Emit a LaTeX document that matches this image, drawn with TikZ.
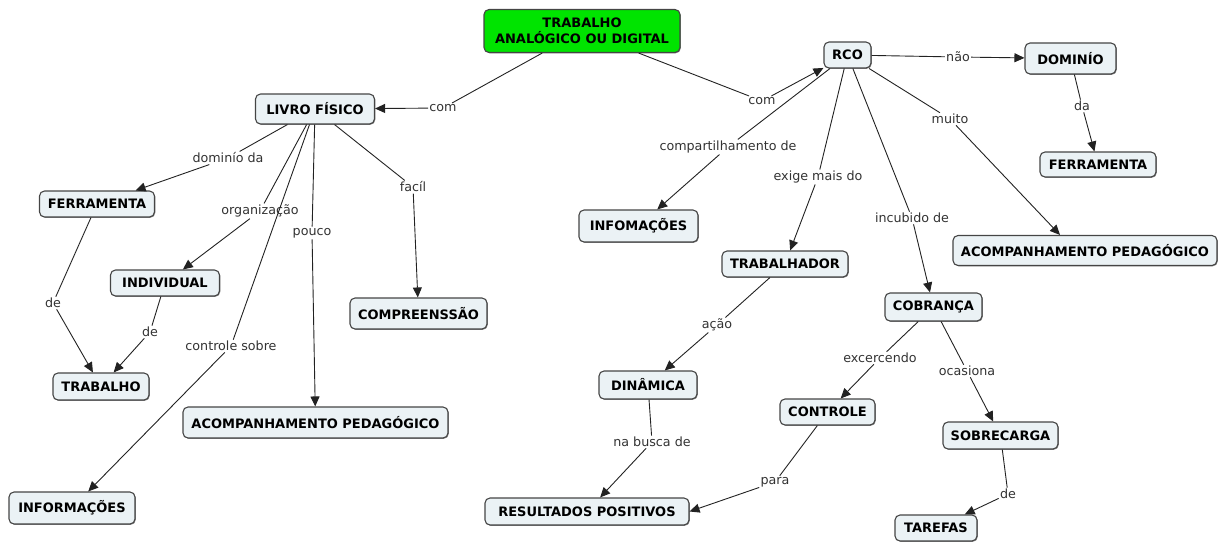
\documentclass[tikz,border=0pt]{standalone}
\usepackage{fontspec}
\setmainfont{DejaVu Sans}
\usetikzlibrary{arrows.meta,shadows}
\definecolor{conceptfill}{HTML}{EBF2F5}
\definecolor{conceptedge}{HTML}{454545}
\definecolor{rootgreen}{HTML}{00E400}
\definecolor{linkgray}{HTML}{222222}
\definecolor{labelgray}{HTML}{333333}

\begin{document}
\begin{tikzpicture}[x=1pt,y=-1pt,
  concept/.style={draw=conceptedge, fill=conceptfill, line width=1.1pt,
    rounded corners=5pt, inner sep=0pt, align=center, text=black,
    font=\fontsize{13}{16}\selectfont\bfseries,
    drop shadow={shadow xshift=0.8pt, shadow yshift=-0.8pt, fill=black!45, opacity=1}},
  linklabel/.style={fill=white, inner sep=1.2pt, text=labelgray,
    font=\fontsize{12.7}{14}\selectfont},
  link/.style={draw=linkgray, line width=0.9pt},
  arrowlink/.style={link, -{Triangle[length=10pt,width=9pt]}},
]
\useasboundingbox (0,0) rectangle (1223,542);

% concepts
\node[concept, fill=rootgreen, minimum width=196pt, minimum height=43pt] (root) at (582,31) {TRABALHO\\ANALÓGICO OU DIGITAL};
\node[concept, minimum width=119pt, minimum height=30pt] (livro) at (315,109) {LIVRO FÍSICO};
\node[concept, minimum width=115pt, minimum height=26pt] (ferrL) at (97,204) {FERRAMENTA};
\node[concept, minimum width=109pt, minimum height=26pt] (indiv) at (165,283) {INDIVIDUAL};
\node[concept, minimum width=96pt, minimum height=27pt] (trab) at (101,386.5) {TRABALHO};
\node[concept, minimum width=137pt, minimum height=31pt] (compr) at (418.5,313.5) {COMPREENSSÃO};
\node[concept, minimum width=265pt, minimum height=31pt] (acompL) at (315.5,422.5) {ACOMPANHAMENTO PEDAGÓGICO};
\node[concept, minimum width=126pt, minimum height=32pt] (infoL) at (72,508) {INFORMAÇÕES};
\node[concept, minimum width=47pt, minimum height=26pt] (rco) at (847.5,55) {RCO};
\node[concept, minimum width=91pt, minimum height=31pt] (dominio) at (1070.5,58.5) {DOMINÍO};
\node[concept, minimum width=116pt, minimum height=25pt] (ferrR) at (1098,164.5) {FERRAMENTA};
\node[concept, minimum width=119pt, minimum height=32pt] (infoR) at (638.5,226) {INFOMAÇÕES};
\node[concept, minimum width=264pt, minimum height=30pt] (acompR) at (1085,250.5) {ACOMPANHAMENTO PEDAGÓGICO};
\node[concept, minimum width=126pt, minimum height=26pt] (trabalhador) at (785,264) {TRABALHADOR};
\node[concept, minimum width=97pt, minimum height=28pt] (cobranca) at (933.5,307) {COBRANÇA};
\node[concept, minimum width=98pt, minimum height=28pt] (dinamica) at (648,385) {DINÂMICA};
\node[concept, minimum width=95pt, minimum height=26pt] (controle) at (827.5,412) {CONTROLE};
\node[concept, minimum width=115pt, minimum height=27pt] (sobrecarga) at (1000.5,435.5) {SOBRECARGA};
\node[concept, minimum width=204pt, minimum height=27pt] (resultados) at (587,511.5) {RESULTADOS POSITIVOS};
\node[concept, minimum width=82pt, minimum height=26pt] (tarefas) at (936,528) {TAREFAS};

% linking phrases
\node[linklabel] (lcomL) at (443,108) {com};
\node[linklabel] (lcomR) at (762,101) {com};
\node[linklabel] (ldominio) at (228,158) {dominío da};
\node[linklabel] (lorg) at (260,211) {organização};
\node[linklabel] (lpouco) at (312,233) {pouco};
\node[linklabel] (lfacil) at (413,187) {facíl};
\node[linklabel] (lctrl) at (231,346) {controle sobre};
\node[linklabel] (lde1) at (53,303) {de};
\node[linklabel] (lde2) at (150,332) {de};
\node[linklabel] (lnao) at (958,57) {não};
\node[linklabel] (lda) at (1082,106) {da};
\node[linklabel] (lmuito) at (950,119) {muito};
\node[linklabel] (lcomp) at (728,147) {compartilhamento de};
\node[linklabel] (lexige) at (818,177) {exige mais do};
\node[linklabel] (lincub) at (912,218) {incubido de};
\node[linklabel] (lacao) at (717,325) {ação};
\node[linklabel] (lbusca) at (652,442) {na busca de};
\node[linklabel] (lexerc) at (880,358) {excercendo};
\node[linklabel] (locas) at (967,371) {ocasiona};
\node[linklabel] (lpara) at (775,482) {para};
\node[linklabel] (lde3) at (1008,494) {de};

% connectors
\draw[link] (root) -- (lcomL);      \draw[arrowlink] (lcomL) -- (livro);
\draw[link] (root) -- (lcomR);      \draw[arrowlink] (lcomR) -- (rco);
\draw[link] (livro) -- (ldominio);  \draw[arrowlink] (ldominio) -- (ferrL);
\draw[link] (livro) -- (lorg);      \draw[arrowlink] (lorg) -- (indiv);
\draw[link] (livro) -- (lpouco);    \draw[arrowlink] (lpouco) -- (acompL);
\draw[link] (livro) -- (lfacil);    \draw[arrowlink] (lfacil) -- (compr);
\draw[link] (livro) -- (lctrl);     \draw[arrowlink] (lctrl) -- (infoL);
\draw[link] (ferrL) -- (lde1);      \draw[arrowlink] (lde1) -- (trab);
\draw[link] (indiv) -- (lde2);      \draw[arrowlink] (lde2) -- (trab);
\draw[link] (rco) -- (lnao);        \draw[arrowlink] (lnao) -- (dominio);
\draw[link] (dominio) -- (lda);     \draw[arrowlink] (lda) -- (ferrR);
\draw[link] (rco) -- (lmuito);      \draw[arrowlink] (lmuito) -- ([xshift=-25pt]acompR.north);
\draw[link] (rco) -- (lcomp);       \draw[arrowlink] (lcomp) -- (infoR);
\draw[link] (rco) -- (lexige);      \draw[arrowlink] (lexige) -- (trabalhador);
\draw[link] (rco) -- (lincub);      \draw[arrowlink] (lincub) -- (cobranca);
\draw[link] (trabalhador) -- (lacao); \draw[arrowlink] (lacao) -- (dinamica);
\draw[link] (dinamica) -- (lbusca); \draw[arrowlink] (lbusca) -- (resultados);
\draw[link] (cobranca) -- (lexerc); \draw[arrowlink] (lexerc) -- (controle);
\draw[link] (cobranca) -- (locas);  \draw[arrowlink] (locas) -- (sobrecarga);
\draw[link] (controle) -- (lpara);  \draw[arrowlink] (lpara) -- (resultados.east);
\draw[link] (sobrecarga) -- (lde3); \draw[arrowlink] (lde3) -- (tarefas);
\end{tikzpicture}
\end{document}
